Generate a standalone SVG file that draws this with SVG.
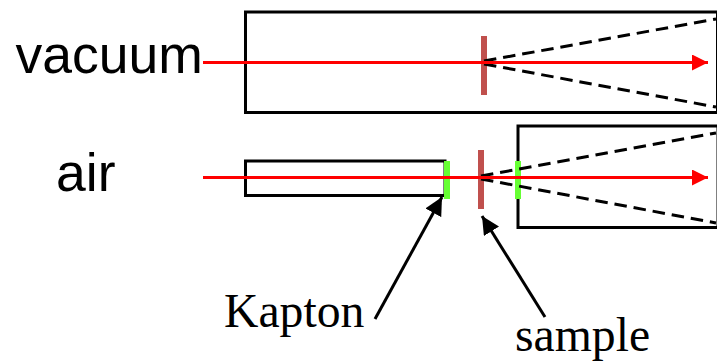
<svg xmlns="http://www.w3.org/2000/svg" width="717" height="361" viewBox="0 0 717 361">
<defs>
<marker id="red" markerUnits="userSpaceOnUse" markerWidth="16" markerHeight="16" refX="16" refY="8" orient="auto"><path d="M0 0L16 8L0 16Z" fill="#ff0000"/></marker>
<marker id="blk" markerUnits="userSpaceOnUse" markerWidth="18" markerHeight="18" refX="18" refY="9" orient="auto"><path d="M0 0L18 9L0 18Z" fill="#000"/></marker>
</defs>
<style>
.box{fill:#fff;stroke:#000;stroke-width:3}
.dash{fill:none;stroke:#000;stroke-width:3;stroke-dasharray:12.500 6.900}
.beam{fill:none;stroke:#ff0000;stroke-width:3;marker-end:url(#red)}
.lead{fill:none;stroke:#000;stroke-width:3;marker-end:url(#blk)}
.sample{fill:#c0504d}
.kapton{fill:#66ff33}
.sans{font-family:"Liberation Sans",Arial,sans-serif;font-size:53.500px;fill:#000}
.serif{font-family:"Liberation Serif","Times New Roman",serif;font-size:47.700px;fill:#000}
</style>
<g id="vacuum-chamber"><rect class="box" x="245.500" y="12" width="472" height="100.500"/></g>
<g id="air-tube"><rect class="box" x="245.500" y="161" width="199.500" height="34.500"/></g>
<g id="air-chamber"><rect class="box" x="518" y="126" width="200" height="101.500"/></g>
<g id="vacuum-sample"><rect class="sample" x="481" y="36" width="6" height="59"/></g>
<g id="air-sample"><rect class="sample" x="478" y="150" width="6" height="59"/></g>
<g id="kapton-left"><rect class="kapton" x="444" y="161" width="6" height="38"/></g>
<g id="kapton-right"><rect class="kapton" x="515" y="161" width="6" height="38"/></g>
<g id="connectors">
<path class="dash" d="M484 61L716 19"/>
<path class="dash" d="M484 64L716 107"/>
<path class="dash" d="M481 176L716 133"/>
<path class="dash" d="M481 179L716 223"/>
<path class="beam" d="M203 62.500H708"/>
<path class="beam" d="M203 177.500H708"/>
<path class="lead" d="M375 319L442 197"/>
<path class="lead" d="M545 317L482 216"/>
</g>
<g id="label-vacuum"><text class="sans" x="15.500" y="73">vacuum</text></g>
<g id="label-air"><text class="sans" x="56" y="190.500">air</text></g>
<g id="label-kapton"><text class="serif" x="224" y="327">Kapton</text></g>
<g id="label-sample"><text class="serif" x="515" y="351">sample</text></g>
</svg>
